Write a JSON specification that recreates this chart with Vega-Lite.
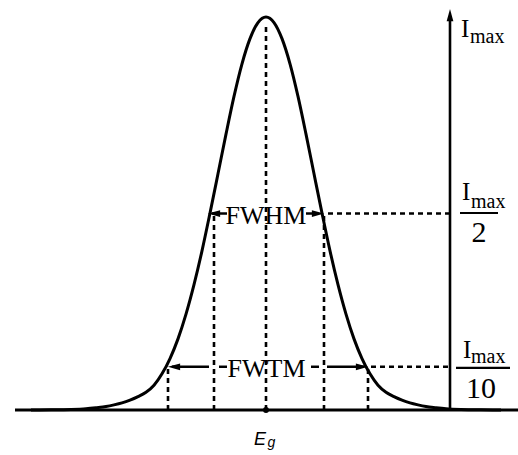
{
  "$schema": "https://vega.github.io/schema/vega-lite/v6.json",
  "width": 518,
  "height": 455,
  "padding": 0,
  "autosize": {"type": "none"},
  "background": "white",
  "config": {"view": {"stroke": null}},
  "datasets": {
    "curve": [
      {"x": 31, "y": 0}, {"x": 51, "y": 0.0004}, {"x": 71, "y": 0.0015}, {"x": 86, "y": 0.0035},
      {"x": 96, "y": 0.006}, {"x": 106, "y": 0.009}, {"x": 114, "y": 0.013}, {"x": 122, "y": 0.018},
      {"x": 130, "y": 0.025}, {"x": 138, "y": 0.034}, {"x": 146, "y": 0.045}, {"x": 154, "y": 0.063},
      {"x": 162, "y": 0.092}, {"x": 170, "y": 0.131}, {"x": 178, "y": 0.181}, {"x": 186, "y": 0.244},
      {"x": 194, "y": 0.319}, {"x": 202, "y": 0.405}, {"x": 210, "y": 0.501}, {"x": 218, "y": 0.601},
      {"x": 226, "y": 0.702}, {"x": 234, "y": 0.798}, {"x": 242, "y": 0.881}, {"x": 250, "y": 0.945},
      {"x": 258, "y": 0.986}, {"x": 266, "y": 1.0}, {"x": 274, "y": 0.986}, {"x": 282, "y": 0.945},
      {"x": 290, "y": 0.881}, {"x": 298, "y": 0.798}, {"x": 306, "y": 0.702}, {"x": 314, "y": 0.601},
      {"x": 322, "y": 0.501}, {"x": 330, "y": 0.405}, {"x": 338, "y": 0.319}, {"x": 346, "y": 0.244},
      {"x": 354, "y": 0.181}, {"x": 362, "y": 0.131}, {"x": 370, "y": 0.092}, {"x": 378, "y": 0.063},
      {"x": 386, "y": 0.045}, {"x": 394, "y": 0.034}, {"x": 402, "y": 0.025}, {"x": 410, "y": 0.018},
      {"x": 418, "y": 0.013}, {"x": 426, "y": 0.009}, {"x": 436, "y": 0.006}, {"x": 446, "y": 0.0035},
      {"x": 461, "y": 0.0015}, {"x": 481, "y": 0.0004}, {"x": 501, "y": 0}
    ],
    "baseline": [{"x": 15, "x2": 518, "y": 0}],
    "vdash": [
      {"x": 266, "y": 0, "y2": 0.985},
      {"x": 214, "y": 0, "y2": 0.5},
      {"x": 324, "y": 0, "y2": 0.5},
      {"x": 168, "y": 0, "y2": 0.11},
      {"x": 368, "y": 0, "y2": 0.11}
    ],
    "hdash": [
      {"x": 328, "x2": 450, "y": 0.5},
      {"x": 371, "x2": 450, "y": 0.11}
    ],
    "hsolid": [
      {"x": 212, "x2": 227, "y": 0.5},
      {"x": 306, "x2": 318, "y": 0.5},
      {"x": 172, "x2": 209, "y": 0.11},
      {"x": 219, "x2": 227, "y": 0.11},
      {"x": 311, "x2": 319, "y": 0.11},
      {"x": 327, "x2": 364, "y": 0.11}
    ],
    "vaxis": [{"x": 450, "y": 0, "y2": 1.0}],
    "heads": [
      {"x": 214, "y": 0.5, "dir": "left"},
      {"x": 318, "y": 0.5, "dir": "right"},
      {"x": 174, "y": 0.11, "dir": "left"},
      {"x": 362, "y": 0.11, "dir": "right"},
      {"x": 450, "y": 1.005, "dir": "up"}
    ],
    "bars": [
      {"x": 460, "x2": 498, "y": 0.5013},
      {"x": 456, "x2": 510, "y": 0.107}
    ],
    "widths": [
      {"x": 266, "y": 0.4733, "label": "FWHM"},
      {"x": 266.5, "y": 0.084, "label": "FWTM"}
    ],
    "capI": [
      {"x": 461, "y": 0.949, "label": "I"},
      {"x": 462, "y": 0.534, "label": "I"},
      {"x": 463, "y": 0.132, "label": "I"}
    ],
    "subMax": [
      {"x": 470, "y": 0.934, "label": "max"},
      {"x": 471, "y": 0.514, "label": "max"},
      {"x": 471, "y": 0.1196, "label": "max"}
    ],
    "digits": [
      {"x": 479, "y": 0.4275, "label": "2"},
      {"x": 481, "y": 0.0305, "label": "10"}
    ],
    "eLabel": [{"x": 254, "y": -0.0891, "label": "E"}],
    "gLabel": [{"x": 267.5, "y": -0.0941, "label": "g"}],
    "dot": [{"x": 266, "y": 0}]
  },
  "encoding": {
    "x": {"field": "x", "type": "quantitative", "scale": {"domain": [0, 518], "nice": false, "zero": false}, "axis": null},
    "y": {"field": "y", "type": "quantitative", "scale": {"domain": [-0.1145, 1.0433], "nice": false, "zero": false}, "axis": null}
  },
  "layer": [
    {
      "data": {"name": "vdash"},
      "mark": {"type": "rule", "color": "black", "strokeWidth": 2.6, "strokeDash": [5, 4]},
      "encoding": {"y2": {"field": "y2"}}
    },
    {
      "data": {"name": "hdash"},
      "mark": {"type": "rule", "color": "black", "strokeWidth": 2.6, "strokeDash": [5, 4]},
      "encoding": {"x2": {"field": "x2"}}
    },
    {
      "data": {"name": "baseline"},
      "mark": {"type": "rule", "color": "black", "strokeWidth": 3},
      "encoding": {"x2": {"field": "x2"}}
    },
    {
      "data": {"name": "curve"},
      "mark": {"type": "line", "color": "black", "strokeWidth": 3, "interpolate": "monotone"},
      "encoding": {}
    },
    {
      "data": {"name": "hsolid"},
      "mark": {"type": "rule", "color": "black", "strokeWidth": 2.5},
      "encoding": {"x2": {"field": "x2"}}
    },
    {
      "data": {"name": "vaxis"},
      "mark": {"type": "rule", "color": "black", "strokeWidth": 2.6},
      "encoding": {"y2": {"field": "y2"}}
    },
    {
      "data": {"name": "heads"},
      "mark": {"type": "point", "filled": true, "color": "black", "opacity": 1, "size": 150},
      "encoding": {
        "shape": {
          "field": "dir",
          "type": "nominal",
          "scale": {
            "domain": ["left", "right", "up"],
            "range": ["M-1,0L1,-0.55L1,0.55Z", "M1,0L-1,-0.55L-1,0.55Z", "M0,-1L-0.55,1L0.55,1Z"]
          },
          "legend": null
        }
      }
    },
    {
      "data": {"name": "bars"},
      "mark": {"type": "rule", "color": "black", "strokeWidth": 2.2},
      "encoding": {"x2": {"field": "x2"}}
    },
    {
      "data": {"name": "widths"},
      "mark": {"type": "text", "font": "Liberation Serif", "fontSize": 26, "align": "center", "baseline": "alphabetic", "color": "black"},
      "encoding": {"text": {"field": "label"}}
    },
    {
      "data": {"name": "capI"},
      "mark": {"type": "text", "font": "Liberation Serif", "fontSize": 25, "align": "left", "baseline": "alphabetic", "color": "black"},
      "encoding": {"text": {"field": "label"}}
    },
    {
      "data": {"name": "subMax"},
      "mark": {"type": "text", "font": "Liberation Serif", "fontSize": 20, "align": "left", "baseline": "alphabetic", "color": "black"},
      "encoding": {"text": {"field": "label"}}
    },
    {
      "data": {"name": "digits"},
      "mark": {"type": "text", "font": "Liberation Serif", "fontSize": 30, "align": "center", "baseline": "alphabetic", "color": "black"},
      "encoding": {"text": {"field": "label"}}
    },
    {
      "data": {"name": "eLabel"},
      "mark": {"type": "text", "font": "Liberation Sans", "fontStyle": "italic", "fontSize": 18, "align": "left", "baseline": "alphabetic", "color": "black"},
      "encoding": {"text": {"field": "label"}}
    },
    {
      "data": {"name": "gLabel"},
      "mark": {"type": "text", "font": "Liberation Sans", "fontStyle": "italic", "fontSize": 14, "align": "left", "baseline": "alphabetic", "color": "black"},
      "encoding": {"text": {"field": "label"}}
    },
    {
      "data": {"name": "dot"},
      "mark": {"type": "point", "filled": true, "color": "black", "opacity": 1, "size": 35},
      "encoding": {}
    }
  ]
}
